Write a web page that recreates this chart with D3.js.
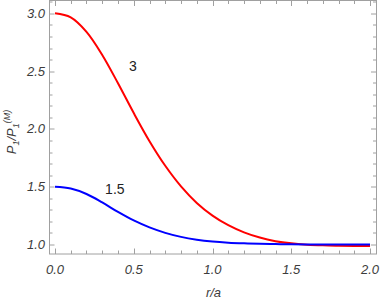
<!DOCTYPE html>
<html lang="en">

<head>
    <meta charset="utf-8">
    <title>P1 ratio</title>
    <script src="https://cdn.jsdelivr.net/npm/d3@7"></script>
</head>
<style>
    body {
        margin: 0;
        background: #fff;
    }

    text {
        font-family: "Liberation Sans", Arial, sans-serif;
    }

    .tick-label {
        font-size: 13px;
        font-style: italic;
        fill: #3c3c3c;
    }
</style>

<body>
    <script>
        // data
        var rValues = [0.0, 0.1, 0.2, 0.3, 0.4, 0.5, 0.6, 0.7, 0.8, 0.9, 1.0,
            1.1, 1.2, 1.3, 1.4, 1.5, 1.6, 1.7, 1.8, 1.9, 2.0];
        var series3 = [3.0, 2.965, 2.84, 2.64, 2.395, 2.137, 1.894, 1.681, 1.503, 1.36, 1.25,
            1.167, 1.105, 1.06, 1.029, 1.01, 0.999, 0.993, 0.99, 0.988, 0.987];
        var series15 = [1.5, 1.484, 1.437, 1.364, 1.282, 1.208, 1.148, 1.101, 1.066, 1.042, 1.026,
            1.016, 1.01, 1.006, 1.004, 1.002, 1.001, 1.0, 1.0, 1.0, 1.0];
        var seriesNames = ["3", "1.5"];
        var xTicks = [0.0, 0.5, 1.0, 1.5, 2.0];
        var yTicks = [1.0, 1.5, 2.0, 2.5, 3.0];

        var width = 382;
        var height = 300;
        var margin = { left: 49, right: 5.5, top: 0.5, bottom: 46 };
        var w = width - margin.left - margin.right;
        var h = height - margin.top - margin.bottom;

        var svg = d3.select("body")
            .append("svg")
            .attr("width", width)
            .attr("height", height);

        var g = svg.append("g")
            .attr("transform", "translate(" + margin.left + "," + margin.top + ")");

        var x = d3.scaleLinear().domain([-0.038, 2.041]).range([0, w]);
        var y = d3.scaleLinear().domain([0.918, 3.111]).range([h, 0]);

        // minor ticks every 0.1
        var xMinor = d3.range(0, 2.001, 0.1).map(function (d) { return +d.toFixed(1); });
        var yMinor = d3.range(1.0, 3.101, 0.1).map(function (d) { return +d.toFixed(1); });
        function isMajor(d) { return Math.abs(d * 2 - Math.round(d * 2)) < 1e-6; }

        var frameColor = "#a0a0a0";

        // ticks on all four sides (inward)
        function tickSide(scale, vals, orient) {
            var sel = g.append("g");
            vals.forEach(function (d) {
                var len = isMajor(d) ? 5.5 : 3.5;
                var p = Math.round(scale(d)) + 0.5;
                var line = sel.append("line").attr("stroke", frameColor).attr("stroke-width", 1);
                if (orient === "bottom") line.attr("x1", p).attr("x2", p).attr("y1", h).attr("y2", h - len);
                if (orient === "top") line.attr("x1", p).attr("x2", p).attr("y1", 0).attr("y2", len);
                if (orient === "left") line.attr("y1", p).attr("y2", p).attr("x1", 0).attr("x2", len);
                if (orient === "right") line.attr("y1", p).attr("y2", p).attr("x1", w).attr("x2", w - len);
            });
        }
        tickSide(x, xMinor, "bottom");
        tickSide(x, xMinor, "top");
        tickSide(y, yMinor, "left");
        tickSide(y, yMinor, "right");

        // frame
        g.append("rect")
            .attr("x", 0.5).attr("y", 0)
            .attr("width", w - 0.5).attr("height", h)
            .attr("fill", "none")
            .attr("stroke", frameColor)
            .attr("stroke-width", 1);

        // tick labels
        g.selectAll(".xl")
            .data(xTicks)
            .enter()
            .append("text")
            .attr("class", "tick-label")
            .attr("x", function (d) { return x(d); })
            .attr("y", h + 20)
            .attr("text-anchor", "middle")
            .text(function (d) { return d.toFixed(1); });

        g.selectAll(".yl")
            .data(yTicks)
            .enter()
            .append("text")
            .attr("class", "tick-label")
            .attr("x", -4)
            .attr("y", function (d) { return y(d) + 4.5; })
            .attr("text-anchor", "end")
            .text(function (d) { return d.toFixed(1); });

        // curves
        var line = d3.line()
            .x(function (d) { return x(d[0]); })
            .y(function (d) { return y(d[1]); })
            .curve(d3.curveCatmullRom.alpha(0.5));

        var allSeries = [series3, series15];
        var colors = ["#ff0000", "#0000ff"];

        g.selectAll(".curve")
            .data(allSeries)
            .enter()
            .append("path")
            .attr("fill", "none")
            .attr("stroke", function (d, i) { return colors[i]; })
            .attr("stroke-width", 2)
            .attr("d", function (d) {
                return line(rValues.map(function (r, i) { return [r, d[i]]; }));
            });

        // curve labels
        var labelPos = [[0.495, 2.505], [0.38, 1.44]];
        g.selectAll(".clabel")
            .data(seriesNames)
            .enter()
            .append("text")
            .attr("x", function (d, i) { return x(labelPos[i][0]); })
            .attr("y", function (d, i) { return y(labelPos[i][1]); })
            .attr("text-anchor", "middle")
            .attr("font-size", 14)
            .attr("fill", "#222")
            .text(function (d) { return d; });

        // axis titles
        svg.append("text")
            .attr("x", margin.left + x(1.0) + 1)
            .attr("y", 297)
            .attr("text-anchor", "middle")
            .attr("font-size", 13)
            .attr("font-style", "italic")
            .attr("fill", "#3c3c3c")
            .text("r/a");

        var yt = svg.append("text")
            .attr("transform", "translate(16,132) rotate(-90)")
            .attr("text-anchor", "middle")
            .attr("font-size", 13)
            .attr("font-style", "italic")
            .attr("fill", "#3c3c3c");
        yt.append("tspan").text("P");
        yt.append("tspan").attr("font-size", 9).attr("dy", 3).text("1");
        yt.append("tspan").attr("dy", -3).text("/P");
        yt.append("tspan").attr("font-size", 9).attr("dy", 3).text("1");
        yt.append("tspan").attr("font-size", 9).attr("dy", -9).text("(M)");
    </script>
</body>

</html>
